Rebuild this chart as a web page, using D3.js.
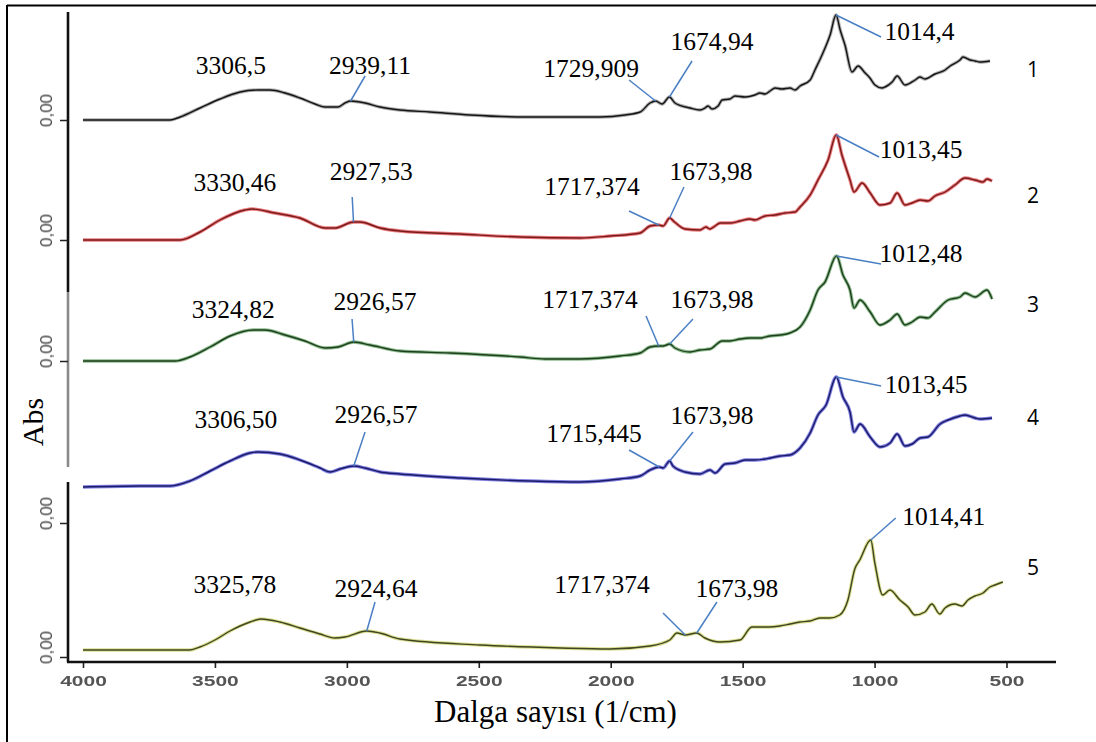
<!DOCTYPE html>
<html>
<head>
<meta charset="utf-8">
<script src="https://cdn.jsdelivr.net/npm/d3@7"></script>
<style>
  body { margin: 0; background: #fff; }
  svg { display: block; }
</style>
</head>
<body>
<svg id="chart" width="1096" height="742"></svg>
<script>
// ---- data -------------------------------------------------------------
const xTicks = [4000, 3500, 3000, 2500, 2000, 1500, 1000, 500];
const xTickLabels = ["4000", "3500", "3000", "2500", "2000", "1500", "1000", "500"];
const yTickLabel = "0,00";
const seriesNames = ["1", "2", "3", "4", "5"];

// [wavenumber (1/cm), absorbance offset within its own panel]
const spectrum1 = [[4000,0],[3655,0],[3615,0.03],[3536,0.12],[3457,0.21],[3377,0.28],[3306.5,0.30],[3259,0.30],[3199,0.27],[3140,0.22],[3080,0.16],[3040,0.13],[2989,0.13],[2961,0.17],[2939.11,0.19],[2882,0.17],[2822,0.13],[2743,0.10],[2624,0.08],[2466,0.05],[2247,0.03],[2109,0.03],[1950,0.03],[1851,0.05],[1791,0.08],[1752,0.17],[1729.909,0.19],[1704,0.16],[1674.94,0.23],[1653,0.17],[1593,0.12],[1554,0.10],[1534,0.12],[1522,0.14],[1506,0.11],[1482,0.14],[1466,0.20],[1435,0.21],[1415,0.24],[1375,0.23],[1336,0.25],[1316,0.27],[1296,0.26],[1276,0.29],[1256,0.32],[1229,0.31],[1197,0.32],[1177,0.30],[1157,0.34],[1117,0.40],[1098,0.50],[1070,0.65],[1038,0.85],[1014.4,1.05],[998,0.90],[979,0.75],[951,0.48],[927,0.54],[899,0.47],[880,0.42],[860,0.35],[832,0.32],[820,0.33],[792,0.38],[772,0.44],[741,0.35],[701,0.40],[682,0.43],[662,0.41],[622,0.46],[582,0.50],[562,0.54],[523,0.60],[511,0.63],[483,0.60],[463,0.59],[444,0.58],[404,0.59]];

const spectrum2 = [[4000,0],[3615,0],[3536,0.08],[3457,0.20],[3358,0.30],[3330.46,0.31],[3239,0.27],[3140,0.22],[3040,0.12],[3001,0.12],[2927.53,0.18],[2902,0.18],[2822,0.12],[2743,0.09],[2505,0.06],[2267,0.03],[2029,0.02],[1910,0.04],[1791,0.07],[1752,0.14],[1717.374,0.15],[1700,0.14],[1673.98,0.22],[1655,0.18],[1613,0.11],[1554,0.10],[1530,0.13],[1515,0.11],[1494,0.14],[1474,0.17],[1435,0.17],[1395,0.19],[1356,0.21],[1336,0.20],[1296,0.24],[1256,0.25],[1217,0.27],[1177,0.28],[1157,0.33],[1117,0.45],[1086,0.60],[1046,0.80],[1013.45,1.05],[991,0.85],[959,0.60],[943,0.48],[911,0.57],[879,0.47],[840,0.35],[800,0.37],[772,0.47],[741,0.35],[713,0.37],[681,0.40],[650,0.39],[622,0.44],[582,0.48],[543,0.55],[503,0.62],[463,0.60],[432,0.58],[416,0.61],[396,0.59]];

const spectrum3 = [[4000,0],[3635,0],[3576,0.04],[3496,0.14],[3417,0.25],[3324.82,0.31],[3278,0.31],[3199,0.26],[3120,0.20],[3040,0.13],[2989,0.14],[2926.57,0.19],[2862,0.16],[2743,0.10],[2545,0.08],[2267,0.04],[2168,0.02],[2029,0.02],[1871,0.05],[1791,0.08],[1752,0.14],[1717.374,0.15],[1700,0.15],[1673.98,0.17],[1653,0.13],[1593,0.09],[1554,0.11],[1514,0.12],[1466,0.20],[1435,0.20],[1395,0.22],[1356,0.23],[1316,0.23],[1276,0.25],[1236,0.26],[1197,0.28],[1157,0.34],[1117,0.51],[1086,0.71],[1058,0.79],[1012.48,1.05],[987,0.86],[959,0.71],[943,0.53],[919,0.61],[879,0.49],[840,0.36],[800,0.41],[772,0.47],[741,0.36],[713,0.39],[681,0.44],[650,0.43],[622,0.49],[570,0.61],[523,0.64],[503,0.68],[463,0.64],[416,0.71],[396,0.62]];

const spectrum4 = [[4000,0],[3774,0.01],[3655,0.01],[3576,0.06],[3496,0.16],[3417,0.26],[3338,0.34],[3306.5,0.35],[3219,0.33],[3140,0.27],[3060,0.19],[3021,0.15],[2981,0.18],[2926.57,0.21],[2882,0.19],[2822,0.15],[2743,0.13],[2505,0.09],[2228,0.06],[2029,0.05],[1871,0.08],[1791,0.11],[1752,0.17],[1715.445,0.20],[1700,0.19],[1673.98,0.26],[1661,0.21],[1613,0.15],[1554,0.13],[1514,0.17],[1494,0.14],[1454,0.23],[1415,0.24],[1375,0.27],[1336,0.27],[1296,0.28],[1276,0.29],[1236,0.31],[1197,0.32],[1157,0.39],[1117,0.54],[1086,0.72],[1054,0.82],[1013.45,1.10],[987,0.90],[959,0.75],[943,0.55],[919,0.63],[879,0.50],[840,0.40],[800,0.44],[772,0.53],[741,0.41],[713,0.43],[681,0.49],[650,0.50],[602,0.63],[570,0.67],[523,0.71],[503,0.72],[463,0.69],[444,0.68],[396,0.69]];

const spectrum5 = [[4000,0.07],[3595,0.07],[3557,0.10],[3500,0.17],[3443,0.26],[3367,0.35],[3325.78,0.38],[3254,0.35],[3178,0.29],[3102,0.23],[3045,0.19],[3007,0.20],[2924.64,0.26],[2875,0.24],[2799,0.18],[2496,0.12],[2192,0.09],[2003,0.08],[1851,0.11],[1776,0.17],[1749,0.24],[1717.374,0.22],[1673.98,0.24],[1643,0.19],[1586,0.15],[1510,0.17],[1465,0.30],[1400,0.30],[1359,0.31],[1320,0.33],[1283,0.35],[1245,0.36],[1207,0.39],[1170,0.39],[1132,0.42],[1101,0.57],[1075,0.88],[1056,0.97],[1014.41,1.17],[999,0.94],[969,0.62],[942,0.67],[904,0.57],[873,0.50],[847,0.42],[809,0.45],[783,0.53],[753,0.43],[733,0.49],[696,0.53],[669,0.51],[646,0.57],[620,0.61],[589,0.64],[563,0.70],[544,0.72],[514,0.75]];

// peak annotations: [wavenumber, label]
const peaks1 = [[3306.5,"3306,5"],[2939.11,"2939,11"],[1729.909,"1729,909"],[1674.94,"1674,94"],[1014.4,"1014,4"]];
const peaks2 = [[3330.46,"3330,46"],[2927.53,"2927,53"],[1717.374,"1717,374"],[1673.98,"1673,98"],[1013.45,"1013,45"]];
const peaks3 = [[3324.82,"3324,82"],[2926.57,"2926,57"],[1717.374,"1717,374"],[1673.98,"1673,98"],[1012.48,"1012,48"]];
const peaks4 = [[3306.50,"3306,50"],[2926.57,"2926,57"],[1715.445,"1715,445"],[1673.98,"1673,98"],[1013.45,"1013,45"]];
const peaks5 = [[3325.78,"3325,78"],[2924.64,"2924,64"],[1717.374,"1717,374"],[1673.98,"1673,98"],[1014.41,"1014,41"]];

// ---- layout -------------------------------------------------------------
const svg = d3.select("#chart");
const W = 1096, H = 742;
const axisX = 68, axisBottom = 662, axisTop = 12, axisRight = 1056;

// the bottom axis (and spectrum 5) span 4000–500; spectra 1–4 were recorded 4000–400
const xMain = d3.scaleLinear().domain([4000, 500]).range([83, 1006.5]);
const xUpper = d3.scaleLinear().domain([4000, 400]).range([83, 991]);

const panelBase = [120, 240, 361, 487, 657];
const yScales = panelBase.map(b => d3.scaleLinear().domain([0, 1]).range([b, b - 100]));

const series = [
  { data: spectrum1, peaks: peaks1, x: xUpper, halo: "#8a8a8a", core: "#141414" },
  { data: spectrum2, peaks: peaks2, x: xUpper, halo: "#e0474c", core: "#7a1a1a" },
  { data: spectrum3, peaks: peaks3, x: xUpper, halo: "#5aa05a", core: "#1f3d1f" },
  { data: spectrum4, peaks: peaks4, x: xUpper, halo: "#4a4ad0", core: "#1a1a6a" },
  { data: spectrum5, peaks: peaks5, x: xMain,  halo: "#cfd064", core: "#3c4622" }
];

// label offsets from the peak point: t = text centre/baseline, l = leader start
const peakOffsets = [
  [{t:[-27,-16]}, {t:[19.5,-27],l:[14.5,-25]}, {t:[-64.5,-24],l:[-26.5,-21]}, {t:[42.6,-47],l:[22.6,-36]}, {t:[83.5,25],l:[45,22]}],
  [{t:[-17,-18]}, {t:[17.7,-42],l:[-1.3,-25]}, {t:[-66.7,-30],l:[-29.7,-14]}, {t:[41.3,-38],l:[14.3,-31]}, {t:[84.8,23],l:[42.8,22]}],
  [{t:[-20,-12]}, {t:[21.3,-32],l:[-1.7,-23]}, {t:[-68.7,-38],l:[-12.7,-30]}, {t:[42.3,-36],l:[23.3,-25]}, {t:[84.5,6],l:[44.5,8]}],
  [{t:[-22,-24]}, {t:[22.3,-43],l:[11.3,-34]}, {t:[-65.2,-25],l:[-30.2,-17]}, {t:[42.3,-37],l:[23.3,-29]}, {t:[89.8,16],l:[44.8,9]}],
  [{t:[-26,-26]}, {t:[9.3,-34],l:[8.3,-29]}, {t:[-83.3,-42],l:[-22.3,-22]}, {t:[40.2,-36],l:[20.2,-31]}, {t:[73,-15],l:[25,-22]}]
];
const nameY = [77, 203, 312, 425, 575];

const serif = "'Liberation Serif', 'Times New Roman', serif";
const sans = "'Liberation Sans', Arial, sans-serif";

const defs = svg.append("defs");
defs.append("filter").attr("id", "soft")
  .append("feGaussianBlur").attr("stdDeviation", 0.5);

svg.append("rect").attr("width", W).attr("height", H).attr("fill", "#fff");

// frame
svg.append("line").attr("x1", 7).attr("y1", 5.5).attr("x2", W).attr("y2", 5.5)
  .attr("stroke", "#000").attr("stroke-width", 2);
svg.append("line").attr("x1", 7).attr("y1", 5).attr("x2", 7).attr("y2", H)
  .attr("stroke", "#000").attr("stroke-width", 2);

// ---- spectra ------------------------------------------------------------
series.forEach((s, i) => {
  const y = yScales[i];
  const line = d3.line()
    .x(d => s.x(d[0]))
    .y(d => y(d[1]))
    .curve(d3.curveMonotoneX);
  const g = svg.append("g").attr("class", "spectrum");
  g.append("path").datum(s.data).attr("d", line)
    .attr("fill", "none").attr("stroke", s.halo).attr("stroke-width", 3.4)
    .attr("stroke-opacity", 0.7).attr("stroke-linejoin", "round");
  g.append("path").datum(s.data).attr("d", line)
    .attr("fill", "none").attr("stroke", s.core).attr("stroke-width", 1.4)
    .attr("stroke-linejoin", "round");
});

// ---- axes ---------------------------------------------------------------
// left axis line
svg.append("line").attr("x1", axisX).attr("x2", axisX).attr("y1", axisTop).attr("y2", 292)
  .attr("stroke", "#111").attr("stroke-width", 2.6);
svg.append("line").attr("x1", axisX).attr("x2", axisX).attr("y1", 292).attr("y2", 467)
  .attr("stroke", "#8a8a8a").attr("stroke-width", 2.6);
svg.append("line").attr("x1", axisX).attr("x2", axisX).attr("y1", 482).attr("y2", axisBottom)
  .attr("stroke", "#111").attr("stroke-width", 2.6);

// "0,00" ticks of each panel (spectrum 4 has no visible label)
const panelTicks = [[0], [0], [0], [], [0, 1.34]];
panelTicks.forEach((vals, i) => {
  if (!vals.length) return;
  const ax = d3.axisLeft(yScales[i]).tickValues(vals).tickSize(8).tickFormat(() => yTickLabel);
  const g = svg.append("g").attr("transform", `translate(${axisX},0)`).call(ax);
  g.select(".domain").remove();
  g.selectAll(".tick line").attr("stroke", "#222").attr("stroke-width", 1.5);
  g.selectAll(".tick text")
    .attr("x", null).attr("dy", null)
    .attr("transform", "translate(-16,-10) rotate(-90)")
    .attr("text-anchor", "middle")
    .attr("font-family", sans).attr("font-size", 17)
    .attr("fill", "#444").attr("filter", "url(#soft)");
});

// bottom axis
const bottomAxis = d3.axisBottom(xMain).tickValues(xTicks).tickSize(6).tickPadding(8)
  .tickFormat((d, k) => xTickLabels[k]);
const gx = svg.append("g").attr("transform", `translate(0,${axisBottom})`).call(bottomAxis);
gx.select(".domain").remove();
gx.selectAll(".tick line").attr("stroke", "#222").attr("stroke-width", 1.6);
gx.selectAll(".tick text")
  .attr("transform", "scale(1.5,1)")
  .attr("font-family", sans).attr("font-size", 14).attr("font-weight", "bold")
  .attr("fill", "#555").attr("filter", "url(#soft)");
svg.append("line").attr("x1", axisX - 1).attr("x2", axisRight).attr("y1", axisBottom).attr("y2", axisBottom)
  .attr("stroke", "#111").attr("stroke-width", 2.6);

// axis titles
svg.append("text").attr("transform", "translate(43,422) rotate(-90)")
  .attr("text-anchor", "middle").attr("font-family", serif).attr("font-size", 30)
  .attr("fill", "#000").text("Abs");
svg.append("text").attr("x", 555.5).attr("y", 722)
  .attr("text-anchor", "middle").attr("font-family", serif).attr("font-size", 31)
  .attr("fill", "#000").text("Dalga sayısı (1/cm)");

// ---- peak annotations ---------------------------------------------------
series.forEach((s, i) => {
  const y = yScales[i];
  const g = svg.append("g").attr("class", "peaks");
  s.peaks.forEach((p, k) => {
    const pt = s.data.find(d => Math.abs(d[0] - p[0]) < 0.001);
    const px = s.x(p[0]), py = y(pt ? pt[1] : 0);
    const off = peakOffsets[i][k];
    if (off.l) {
      g.append("line").attr("x1", px).attr("y1", py)
        .attr("x2", px + off.l[0]).attr("y2", py + off.l[1])
        .attr("stroke", "#4a7fc4").attr("stroke-width", 1.5);
    }
    g.append("text").attr("x", px + off.t[0]).attr("y", py + off.t[1])
      .attr("text-anchor", "middle").attr("font-family", serif).attr("font-size", 25.5)
      .attr("fill", "#000").text(p[1]);
  });
});

// series numbers
svg.append("g").selectAll("text").data(seriesNames).join("text")
  .attr("x", 1033).attr("y", (d, i) => nameY[i])
  .attr("text-anchor", "middle").attr("font-family", "'Open Sans', " + sans)
  .attr("font-size", 21).attr("fill", "#000").text(d => d);
</script>
</body>
</html>
